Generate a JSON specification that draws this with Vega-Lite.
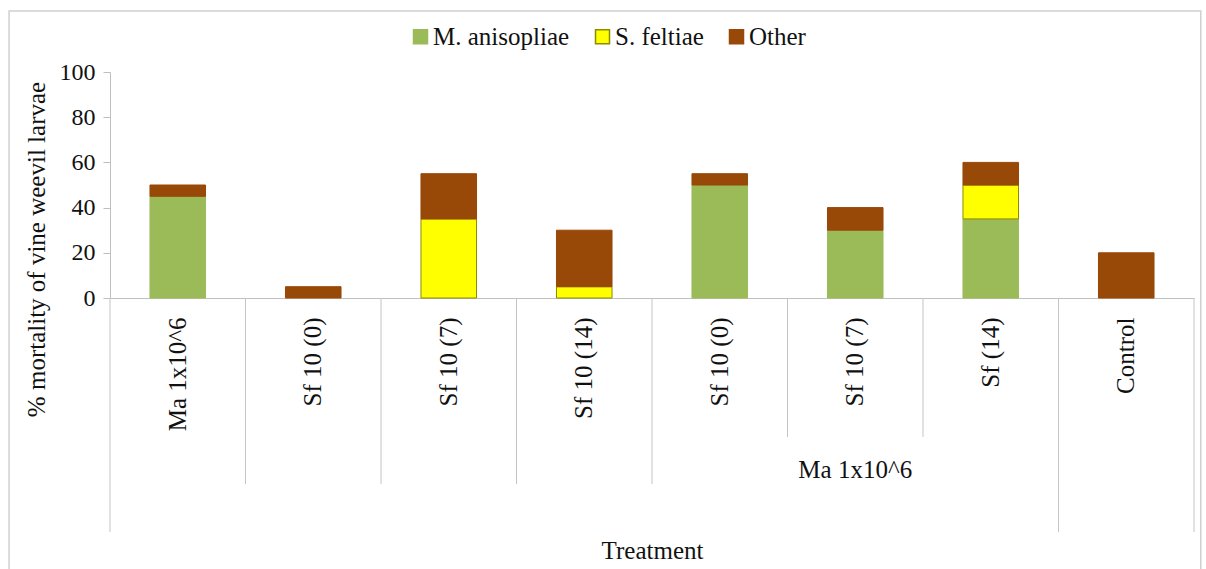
{
  "$schema": "https://vega.github.io/schema/vega-lite/v6.json",
  "autosize": "none",
  "width": 1084,
  "height": 226,
  "padding": {"left": 110, "top": 72, "right": 12, "bottom": 271},
  "background": "white",
  "config": {
    "font": "Liberation Serif",
    "view": {"stroke": null},
    "axis": {"labelColor": "#111", "titleColor": "#111", "titleFontWeight": "normal", "grid": false, "labelFont": "Liberation Serif", "titleFont": "Liberation Serif"},
    "legend": {"labelFont": "Liberation Serif", "titleFont": "Liberation Serif"},
    "text": {"font": "Liberation Serif"}
  },
  "datasets": {
    "bars": [
      {"cat": "Ma 1x10^6", "agent": "M. anisopliae", "value": 45},
      {"cat": "Ma 1x10^6", "agent": "Other", "value": 5},
      {"cat": "Sf 10 (0)", "agent": "Other", "value": 5},
      {"cat": "Sf 10 (7)", "agent": "S. feltiae", "value": 35},
      {"cat": "Sf 10 (7)", "agent": "Other", "value": 20},
      {"cat": "Sf 10 (14)", "agent": "S. feltiae", "value": 5},
      {"cat": "Sf 10 (14)", "agent": "Other", "value": 25},
      {"cat": "Ma+Sf 10 (0)", "agent": "M. anisopliae", "value": 50},
      {"cat": "Ma+Sf 10 (0)", "agent": "Other", "value": 5},
      {"cat": "Ma+Sf 10 (7)", "agent": "M. anisopliae", "value": 30},
      {"cat": "Ma+Sf 10 (7)", "agent": "Other", "value": 10},
      {"cat": "Ma+Sf (14)", "agent": "M. anisopliae", "value": 35},
      {"cat": "Ma+Sf (14)", "agent": "S. feltiae", "value": 15},
      {"cat": "Ma+Sf (14)", "agent": "Other", "value": 10},
      {"cat": "Control", "agent": "Other", "value": 20}
    ],
    "cats": [
      {"cat": "Ma 1x10^6", "sep": 3},
      {"cat": "Sf 10 (0)", "sep": 2},
      {"cat": "Sf 10 (7)", "sep": 2},
      {"cat": "Sf 10 (14)", "sep": 2},
      {"cat": "Ma+Sf 10 (0)", "sep": 2},
      {"cat": "Ma+Sf 10 (7)", "sep": 1},
      {"cat": "Ma+Sf (14)", "sep": 1},
      {"cat": "Control", "sep": 3}
    ]
  },
  "resolve": {"scale": {"x": "independent", "y": "independent"}, "axis": {"x": "independent", "y": "independent"}},
  "layer": [
    {
      "data": {"values": [{}]},
      "mark": {"type": "rect", "fill": "transparent", "stroke": "#d0d0d0", "strokeWidth": 1.5},
      "encoding": {
        "x": {"datum": -0.745, "type": "quantitative", "scale": {"domain": [0, 8], "nice": false, "zero": false}, "axis": null},
        "x2": {"datum": 8.05},
        "y": {"datum": 127, "type": "quantitative", "scale": {"domain": [0, 100], "nice": false}, "axis": null},
        "y2": {"datum": -130}
      }
    },
    {
      "layer": [
        {
          "data": {"name": "bars"},
          "transform": [{"calculate": "indexof(['M. anisopliae','S. feltiae','Other'], datum.agent)", "as": "ord"}],
          "mark": {"type": "bar", "width": {"band": 0.41}, "strokeWidth": 1},
          "encoding": {
            "x": {
              "field": "cat", "type": "nominal", "title": "Treatment",
              "scale": {"domain": ["Ma 1x10^6", "Sf 10 (0)", "Sf 10 (7)", "Sf 10 (14)", "Ma+Sf 10 (0)", "Ma+Sf 10 (7)", "Ma+Sf (14)", "Control"], "paddingInner": 0, "paddingOuter": 0},
              "axis": {
                "labelExpr": "replace(datum.label, 'Ma+', '')",
                "labelAngle": 270, "labelAlign": "right", "labelBaseline": "middle",
                "labelPadding": 19, "ticks": false, "domainColor": "#bfbfbf",
                "labelFont": "Liberation Serif", "titleFont": "Liberation Serif",
                "labelFontSize": 25, "titleFontSize": 25, "titleY": 252, "titleBaseline": "middle"
              }
            },
            "y": {
              "field": "value", "type": "quantitative", "stack": "zero",
              "title": "% mortality of vine weevil larvae",
              "scale": {"domain": [0, 100], "nice": false},
              "axis": {
                "values": [0, 20, 40, 60, 80, 100], "tickSize": 7, "tickColor": "#bfbfbf", "domainColor": "#bfbfbf",
                "labelFont": "Liberation Serif", "titleFont": "Liberation Serif",
                "labelPadding": 8, "labelFontSize": 24, "titleFontSize": 25,
                "titleAngle": 270, "titleX": -74, "titleY": 177, "titleBaseline": "middle", "titleAlign": "center"
              }
            },
            "fill": {
              "field": "agent", "type": "nominal",
              "scale": {"domain": ["M. anisopliae", "S. feltiae", "Other"], "range": ["#9bbb59", "#ffff00", "#984807"]},
              "legend": {
                "title": null, "orient": "none", "direction": "horizontal", "legendX": 298, "legendY": -48,
                "padding": 0, "symbolType": "square", "symbolSize": 196, "labelFont": "Liberation Serif",
                "labelFontSize": 25, "labelColor": "#111",
                "labelOffset": 0, "columnPadding": 20
              }
            },
            "stroke": {
              "field": "agent", "type": "nominal",
              "scale": {"domain": ["M. anisopliae", "S. feltiae", "Other"], "range": ["#9bbb59", "#8c8c00", "#984807"]},
              "legend": null
            },
            "order": {"field": "ord", "type": "quantitative"}
          }
        },
        {
          "data": {"name": "cats"},
          "transform": [{"filter": "datum.sep == 3"}],
          "mark": {"type": "rule", "color": "#c4c4c4", "strokeWidth": 1},
          "encoding": {
            "x": {"field": "cat", "type": "nominal", "bandPosition": 0, "title": "Treatment"},
            "y": {"datum": 0, "type": "quantitative", "scale": {"domain": [0, 100], "nice": false}},
            "y2": {"datum": -103.5}
          }
        },
        {
          "data": {"name": "cats"},
          "transform": [{"filter": "datum.sep == 2"}],
          "mark": {"type": "rule", "color": "#c4c4c4", "strokeWidth": 1},
          "encoding": {
            "x": {"field": "cat", "type": "nominal", "bandPosition": 0, "title": "Treatment"},
            "y": {"datum": 0, "type": "quantitative", "scale": {"domain": [0, 100], "nice": false}},
            "y2": {"datum": -82.3}
          }
        },
        {
          "data": {"name": "cats"},
          "transform": [{"filter": "datum.sep == 1"}],
          "mark": {"type": "rule", "color": "#c4c4c4", "strokeWidth": 1},
          "encoding": {
            "x": {"field": "cat", "type": "nominal", "bandPosition": 0, "title": "Treatment"},
            "y": {"datum": 0, "type": "quantitative", "scale": {"domain": [0, 100], "nice": false}},
            "y2": {"datum": -61.5}
          }
        },
        {
          "data": {"name": "cats"},
          "transform": [{"filter": "datum.cat == 'Control'"}],
          "mark": {"type": "rule", "color": "#c4c4c4", "strokeWidth": 1},
          "encoding": {
            "x": {"field": "cat", "type": "nominal", "bandPosition": 1, "title": "Treatment"},
            "y": {"datum": 0, "type": "quantitative", "scale": {"domain": [0, 100], "nice": false}},
            "y2": {"datum": -103.5}
          }
        },
        {
          "data": {"name": "cats"},
          "transform": [{"filter": "datum.cat == 'Ma+Sf 10 (7)'"}],
          "mark": {"type": "text", "font": "Liberation Serif", "fontSize": 25, "color": "#111", "baseline": "middle", "align": "center"},
          "encoding": {
            "x": {"field": "cat", "type": "nominal", "title": "Treatment"},
            "y": {"datum": -76, "type": "quantitative", "scale": {"domain": [0, 100], "nice": false}},
            "text": {"value": "Ma 1x10^6"}
          }
        }
      ]
    }
  ]
}
